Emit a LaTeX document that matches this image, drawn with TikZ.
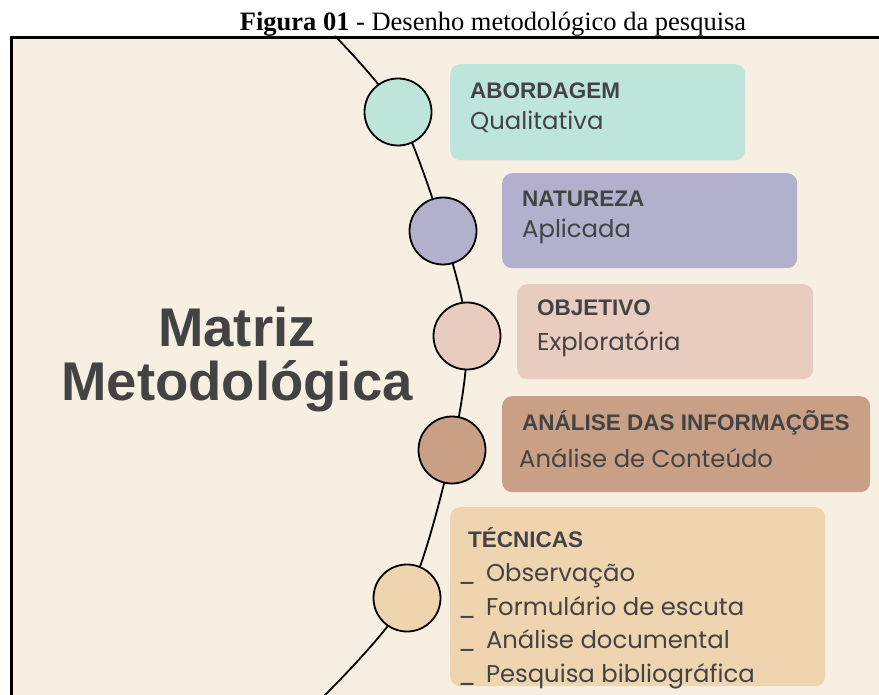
\documentclass[tikz,border=0pt]{standalone}
\usepackage{fontspec}
\setmainfont{Liberation Serif}
\newfontfamily\sansfont{Liberation Sans}
\newfontfamily\handfont{Poppins}
\usetikzlibrary{backgrounds}

\definecolor{fundo}{HTML}{F7EFE1}
\definecolor{verdeagua}{HTML}{BEE5DC}
\definecolor{lilas}{HTML}{B1B0CD}
\definecolor{rosa}{HTML}{E8CCC0}
\definecolor{marrom}{HTML}{C9A086}
\definecolor{bege}{HTML}{EFD4B0}
\definecolor{texto}{HTML}{434343}

\tikzset{
	circ/.style={circle, draw, line width=1.8pt, minimum size=67pt, inner sep=0pt},
	caixa/.style={rounded corners=10pt, inner sep=0pt, anchor=north west},
	titulo/.style={font=\sansfont\bfseries\fontsize{22.5}{27}\selectfont, text=texto, anchor=base west, inner sep=0pt},
	valor/.style={font=\handfont\fontsize{24.3}{28}\selectfont, text=texto, anchor=base west, inner sep=0pt}
}

\begin{document}
\begin{tikzpicture}[x=1pt, y=-1pt]
			\useasboundingbox (0,0) rectangle (879,695);
			% 背景和边框
			\begin{scope}[on background layer]
				\fill[fundo] (11,38) rectangle (879,695);
				\draw[line width=3pt] (11,697) -- (11,38) -- (881,38);
			\end{scope}
			
			% 标题
			\node[anchor=base, font=\fontsize{26.5}{32}\selectfont] (figura) at (493,31) {\textbf{Figura 01} - Desenho metodológico da pesquisa};
			
			% 左侧大字
			\node[anchor=base, font=\sansfont\bfseries\fontsize{54.5}{60}\selectfont, text=texto] (matriz) at (237,347) {Matriz};
			\node[anchor=base, font=\sansfont\bfseries\fontsize{54.5}{60}\selectfont, text=texto] (metodologica) at (237,400) {Metodológica};
			
			% 圆点
			\node[circ, fill=verdeagua] (c1) at (398,112) {};
			\node[circ, fill=lilas] (c2) at (443,231) {};
			\node[circ, fill=rosa] (c3) at (467,336) {};
			\node[circ, fill=marrom] (c4) at (452,450) {};
			\node[circ, fill=bege] (c5) at (407,598) {};
			
			% 曲线
			\coordinate (inicio) at (335,36);
			\coordinate (fim) at (323,697);
			\begin{scope}[on background layer]
				\draw[line width=1.8pt] plot[smooth] coordinates {(inicio) (c1.center) (c2.center) (c3.center) (c4.center) (c5.center) (fim)};
			\end{scope}
			
			% 方框
			\node[caixa, fill=verdeagua, minimum width=295pt, minimum height=96pt] (b1) at (450,64) {};
			\node[caixa, fill=lilas, minimum width=295pt, minimum height=95pt] (b2) at (502,173) {};
			\node[caixa, fill=rosa, minimum width=296pt, minimum height=95pt] (b3) at (517,284) {};
			\node[caixa, fill=marrom, minimum width=368pt, minimum height=96pt] (b4) at (502,396) {};
			\node[caixa, fill=bege, minimum width=375pt, minimum height=179pt] (b5) at (450,507) {};
			
			% 方框文字
			\node[titulo] (abordagem) at (470,99) {ABORDAGEM};
			\node[valor] (qualitativa) at (470,130) {Qualitativa};
			\node[titulo] (natureza) at (522,207) {NATUREZA};
			\node[valor] (aplicada) at (522,238) {Aplicada};
			\node[titulo] (objetivo) at (537,316) {OBJETIVO};
			\node[valor] (exploratoria) at (537,351) {Exploratória};
			\node[titulo] (analise) at (522,430) {ANÁLISE DAS INFORMAÇÕES};
			\node[valor] (conteudo) at (519,467) {Análise de Conteúdo};
			\node[titulo] (tecnicas) at (468,547) {TÉCNICAS};
			\node[valor] (observacao) at (458,581) {\_\hspace{10pt}Observação};
			\node[valor] (formulario) at (458,615) {\_\hspace{10pt}Formulário de escuta};
			\node[valor] (documental) at (458,648) {\_\hspace{10pt}Análise documental};
			\node[valor] (bibliografica) at (458,682) {\_\hspace{10pt}Pesquisa bibliográfica};
		\end{tikzpicture}
\end{document}
